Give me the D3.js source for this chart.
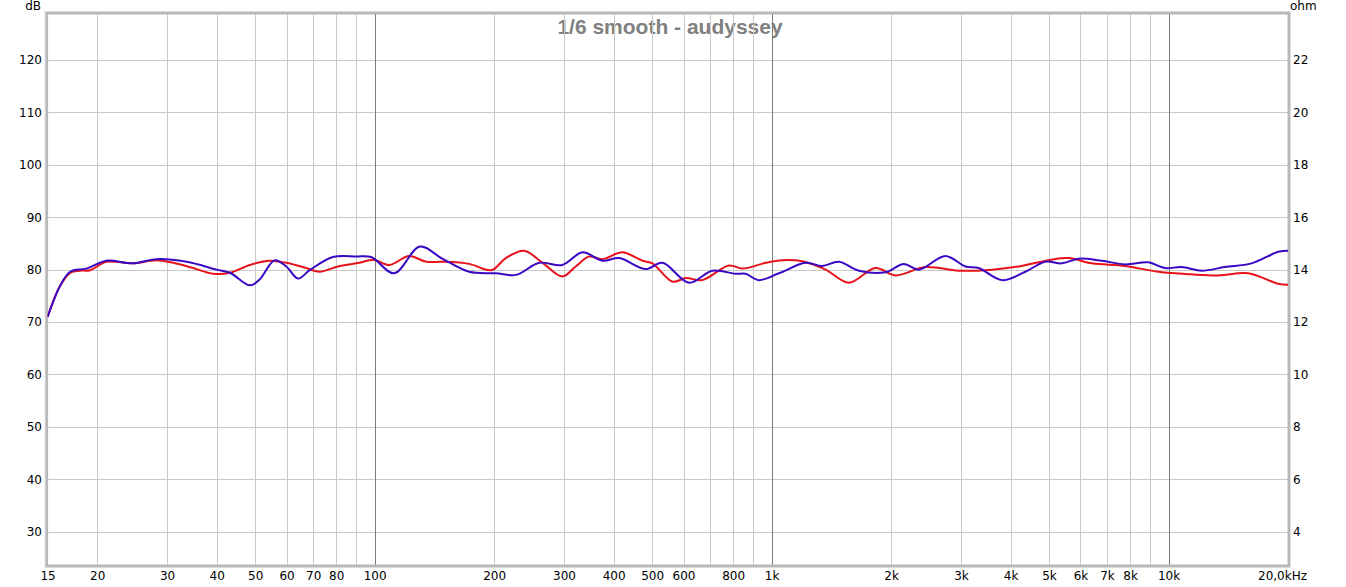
<!DOCTYPE html>
<html><head><meta charset="utf-8">
<script src="https://cdn.jsdelivr.net/npm/d3@7"></script>
<style>html,body{margin:0;padding:0;background:#fff;overflow:hidden}svg{display:block}</style>
</head><body>
<svg id="chart" width="1346" height="587"></svg>
<script>
const title = "1/6 smooth - audyssey";
const freqGrid = [20,30,40,50,60,70,80,90,100,200,300,400,500,600,700,800,900,1000,2000,3000,4000,5000,6000,7000,8000,9000,10000];
const decadeLines = [100,1000,10000];
const xTickValues = [15,20,30,40,50,60,70,80,100,200,300,400,500,600,800,1000,2000,3000,4000,5000,6000,7000,8000,10000,20000];
const xTickLabels = ["15","20","30","40","50","60","70","80","100","200","300","400","500","600","800","1k","2k","3k","4k","5k","6k","7k","8k","10k","20,0kHz"];
const dbTicks = [30,40,50,60,70,80,90,100,110,120];
const ohmTicks = [4,6,8,10,12,14,16,18,20,22];

const redFreq = [15,16.1,17.1,18.1,19.2,21.1,24.6,28.2,31.1,34.9,39.2,43.2,48.5,54.4,59.9,67.3,72.7,81.6,91.6,99,109,122,135,148,173,197,214,238,265,297,321,347,375,421,473,501,563,608,669,781,844,966,1064,1195,1368,1566,1827,2052,2442,2961,3591,4192,4987,5600,6410,7776,9430,11440,13350,15880,18900,20000];
const redDb   = [71.0,76.8,79.4,79.8,79.9,81.5,81.2,81.8,81.3,80.3,79.2,79.4,80.9,81.7,81.3,80.3,79.6,80.7,81.3,81.9,80.9,82.6,81.5,81.5,81.1,79.9,82.2,83.6,81.3,78.7,80.6,82.5,82.0,83.3,81.7,81.2,77.7,78.4,78.0,80.8,80.2,81.3,81.8,81.6,80.0,77.5,80.3,78.9,80.5,79.8,80.0,80.6,81.8,82.2,81.2,80.7,79.6,79.1,78.9,79.3,77.3,77.1];

const blueFreq = [15,16.1,17.1,18.8,21.1,24.6,28.2,33.6,40.0,43.2,48.5,51.3,56.0,59.9,64.1,68.6,78.5,89.9,98,112,130,148,173,202,227,260,297,334,375,413,482,531,620,709,812,860,929,1044,1218,1341,1478,1659,1937,2153,2349,2742,3078,3325,3806,4358,4893,5388,5935,6790,7776,8900,9806,10790,12120,13880,16190,18900,20000];
const blueDb   = [71.0,76.8,79.6,80.2,81.7,81.2,82.0,81.5,80.0,79.4,77.0,78.1,81.8,80.6,78.3,79.9,82.4,82.5,82.4,79.3,84.4,82.1,79.6,79.3,79.0,81.3,80.9,83.3,81.7,82.2,80.1,81.3,77.5,79.8,79.2,79.2,78.0,79.3,81.3,80.7,81.5,79.8,79.5,81.1,80.0,82.6,80.6,80.3,78.0,79.6,81.5,81.2,82.1,81.7,81.0,81.4,80.3,80.5,79.8,80.5,81.2,83.4,83.6];

const svg = d3.select("#chart");
const L = 47.6, R = 1288, T = 14, B = 565;
const x = d3.scaleLog().domain([15,20000]).range([L,R]);
const y = d3.scaleLinear().domain([30,120]).range([531.7,60]);
const yOhm = d3.scaleLinear().domain([4,22]).range([531.7,60]);
const font = "'Liberation Sans', Arial, sans-serif";
const tickFont = "'DejaVu Sans', Tahoma, sans-serif";

svg.append("text").attr("x",670).attr("y",34).attr("text-anchor","middle")
  .attr("font-family",font).attr("font-weight","bold").attr("font-size",21)
  .attr("fill","#808080").text(title);

const g = svg.append("g");
g.selectAll(".hg").data(dbTicks).join("line")
  .attr("x1",L).attr("x2",R).attr("y1",d=>Math.round(y(d))+0.5).attr("y2",d=>Math.round(y(d))+0.5)
  .attr("stroke","#c8c8c8").attr("stroke-width",1);
g.selectAll(".vg").data(freqGrid).join("line")
  .attr("x1",d=>Math.round(x(d))+0.5).attr("x2",d=>Math.round(x(d))+0.5).attr("y1",T).attr("y2",B)
  .attr("stroke",d=>decadeLines.includes(d)?"#7a7a7a":"#c8c8c8").attr("stroke-width",1);

svg.append("rect").attr("x",L-1).attr("y",T-1).attr("width",R-L+2).attr("height",B-T+2)
  .attr("fill","none").attr("stroke","#b8b8b8").attr("stroke-width",3);
svg.append("rect").attr("x",L-2.5).attr("y",T-2.5).attr("width",R-L+5).attr("height",B-T+5)
  .attr("fill","none").attr("stroke","#dcdcdc").attr("stroke-width",1);

const yAxisL = d3.axisLeft(y).tickValues(dbTicks).tickSize(0).tickPadding(0);
const gl = svg.append("g").attr("transform",`translate(42,0)`).call(yAxisL);
const yAxisR = d3.axisRight(yOhm).tickValues(ohmTicks).tickSize(0).tickPadding(0);
const gr = svg.append("g").attr("transform",`translate(1293,0)`).call(yAxisR);
const xAxis = d3.axisBottom(x).tickValues(xTickValues).tickFormat((d,i)=>xTickLabels[i]).tickSize(0).tickPadding(0);
const gx = svg.append("g").attr("transform",`translate(0,571)`).call(xAxis);
gx.selectAll("text").attr("dx",(d,i)=> i===xTickValues.length-1 ? -6 : 0);
[gl,gr,gx].forEach(a=>{a.select(".domain").remove();
  a.selectAll("text").attr("font-family",tickFont).attr("font-size",12).attr("fill","#000");});

svg.append("text").attr("x",41).attr("y",10).attr("text-anchor","end")
  .attr("font-family",tickFont).attr("font-size",12).text("dB");
svg.append("text").attr("x",1290).attr("y",10)
  .attr("font-family",tickFont).attr("font-size",12).text("ohm");

const line = d3.line().x(d=>x(d[0])).y(d=>y(d[1])).curve(d3.curveCatmullRom.alpha(0.5));
svg.append("clipPath").attr("id","clp").append("rect").attr("x",L).attr("y",T).attr("width",R-L).attr("height",B-T);
const cg = svg.append("g").attr("clip-path","url(#clp)");
cg.append("path").datum(d3.zip(redFreq,redDb)).attr("d",line)
  .attr("fill","none").attr("stroke","#e8121a").attr("stroke-width",2);
cg.append("path").datum(d3.zip(blueFreq,blueDb)).attr("d",line)
  .attr("fill","none").attr("stroke","#3a08c4").attr("stroke-width",2);
</script>
</body></html>
